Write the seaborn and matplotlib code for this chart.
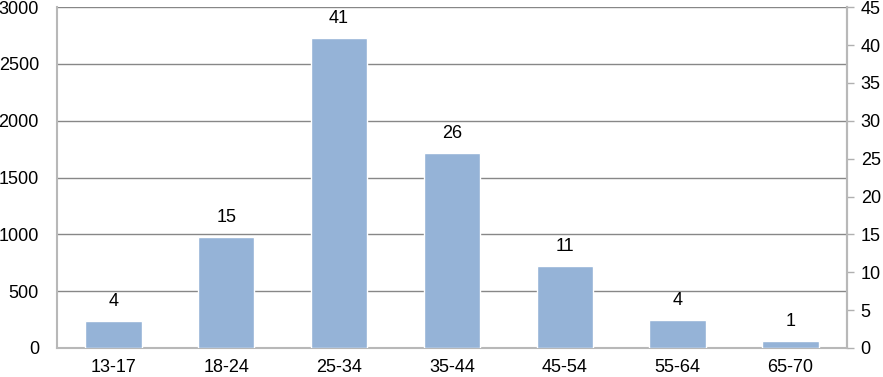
import matplotlib
matplotlib.use("Agg")
import matplotlib.pyplot as plt
import seaborn as sns
import pandas as pd
import numpy as np

categories = ["13-17", "18-24", "25-34", "35-44", "45-54", "55-64", "65-70"]
counts = [237, 977, 2727, 1715, 721, 246, 62]
percent_labels = ["4", "15", "41", "26", "11", "4", "1"]
left_ticks = [0, 500, 1000, 1500, 2000, 2500, 3000]
right_ticks = [0, 5, 10, 15, 20, 25, 30, 35, 40, 45]

sns.set_theme(style="white")
plt.rcParams['font.family'] = ['Liberation Sans', 'DejaVu Sans']
plt.rcParams['font.size'] = 13

df = pd.DataFrame({"age": categories, "count": counts})

fig, ax = plt.subplots(figsize=(8.83, 3.77), dpi=100)
fig.subplots_adjust(left=0.0646, right=0.959, top=0.981, bottom=0.077)

sns.barplot(data=df, x="age", y="count", color="#95B3D7", saturation=1,
            width=0.5, ax=ax, zorder=3)

ax.bar_label(ax.containers[0], labels=percent_labels, padding=8, fontsize=13,
             color="#000000")

ax.set_ylim(0, 3000)
ax.set_xlim(-0.5, len(categories) - 0.5)
ax.set_yticks(left_ticks)
ax.set_yticklabels([str(t) for t in left_ticks])
ax.set_xlabel("")
ax.set_ylabel("")
ax.yaxis.grid(True, color="#878787", linewidth=1, zorder=0)
ax.set_axisbelow(True)

ax.set_xticks(np.arange(-0.5, len(categories), 1.0), minor=True)
ax.tick_params(axis="x", which="major", length=0, pad=8, labelsize=13, colors="#000000")
ax.tick_params(axis="x", which="minor", length=5, width=1, color="#B0B0B0", direction="out")
ax.tick_params(axis="y", which="major", length=0, pad=13, labelsize=13, labelcolor="#000000")

for side in ["left", "bottom", "right"]:
    ax.spines[side].set_visible(True)
    ax.spines[side].set_color("#B8B8B8")
    ax.spines[side].set_linewidth(1.5)
ax.spines["top"].set_visible(False)

ax2 = ax.twinx()
ax2.set_ylim(0, 45)
ax2.set_yticks(right_ticks)
ax2.set_yticklabels([str(t) for t in right_ticks])
ax2.tick_params(axis="y", which="major", length=5, width=1, color="#B0B0B0",
                direction="out", pad=5, labelsize=13, labelcolor="#000000")
for side in ["left", "bottom", "top"]:
    ax2.spines[side].set_visible(False)
ax2.spines["right"].set_visible(True)
ax2.spines["right"].set_color("#B8B8B8")
ax2.spines["right"].set_linewidth(1.5)
ax2.grid(False)

fig.savefig("out.png", dpi=100)
